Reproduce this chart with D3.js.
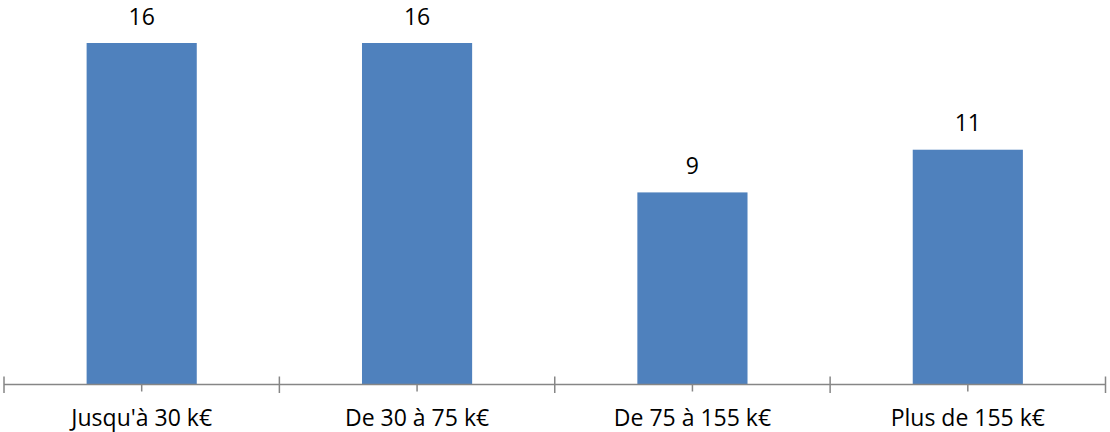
<!DOCTYPE html>
<html><head><meta charset="utf-8">
<script src="https://cdn.jsdelivr.net/npm/d3@7"></script>
<style>html,body{margin:0;padding:0;background:#fff;}svg{display:block;}</style>
</head><body>
<svg id="chart" width="1110" height="432"></svg>
<script>
const categories = ["Jusqu'à 30 k€", "De 30 à 75 k€", "De 75 à 155 k€", "Plus de 155 k€"];
const values = [16, 16, 9, 11];

const svg = d3.select("#chart");
const font = "'Open Sans', sans-serif";
const x = d3.scaleBand().domain(categories).range([4, 1105.5]).paddingInner(0.6).paddingOuter(0.3);
const y = d3.scaleLinear().domain([0, 16]).range([384.5, 43]);
const step = x.step();

svg.selectAll("rect.bar").data(values).join("rect")
  .attr("class", "bar")
  .attr("x", (d, i) => x(categories[i]))
  .attr("width", x.bandwidth())
  .attr("y", d => y(d))
  .attr("height", d => y(0) - y(d))
  .attr("fill", "#4F81BD");

// axis line
svg.append("line").attr("x1", 4).attr("x2", 1105.5).attr("y1", y(0)).attr("y2", y(0))
  .attr("stroke", "#868686").attr("stroke-width", 1.5);
// major ticks at category boundaries
const bounds = d3.range(categories.length + 1).map(i => 4 + i * step);
svg.selectAll("line.major").data(bounds).join("line").attr("class", "major")
  .attr("x1", d => d).attr("x2", d => d).attr("y1", y(0) - 8).attr("y2", y(0) + 8.5)
  .attr("stroke", "#868686").attr("stroke-width", 1.5);
// minor ticks at category centers
svg.selectAll("line.minor").data(categories).join("line").attr("class", "minor")
  .attr("x1", d => x(d) + x.bandwidth() / 2).attr("x2", d => x(d) + x.bandwidth() / 2)
  .attr("y1", y(0)).attr("y2", y(0) + 7)
  .attr("stroke", "#868686").attr("stroke-width", 1.5);

svg.selectAll("text.val").data(values).join("text").attr("class", "val")
  .attr("x", (d, i) => x(categories[i]) + x.bandwidth() / 2)
  .attr("y", d => y(d) - 18.5)
  .attr("text-anchor", "middle")
  .attr("font-family", font).attr("font-size", 23).attr("fill", "#000")
  .text(d => d);

svg.selectAll("text.cat").data(categories).join("text").attr("class", "cat")
  .attr("x", d => x(d) + x.bandwidth() / 2)
  .attr("y", 426)
  .attr("text-anchor", "middle")
  .attr("font-family", font).attr("font-size", 23).attr("fill", "#000")
  .text(d => d);
</script>
</body></html>
